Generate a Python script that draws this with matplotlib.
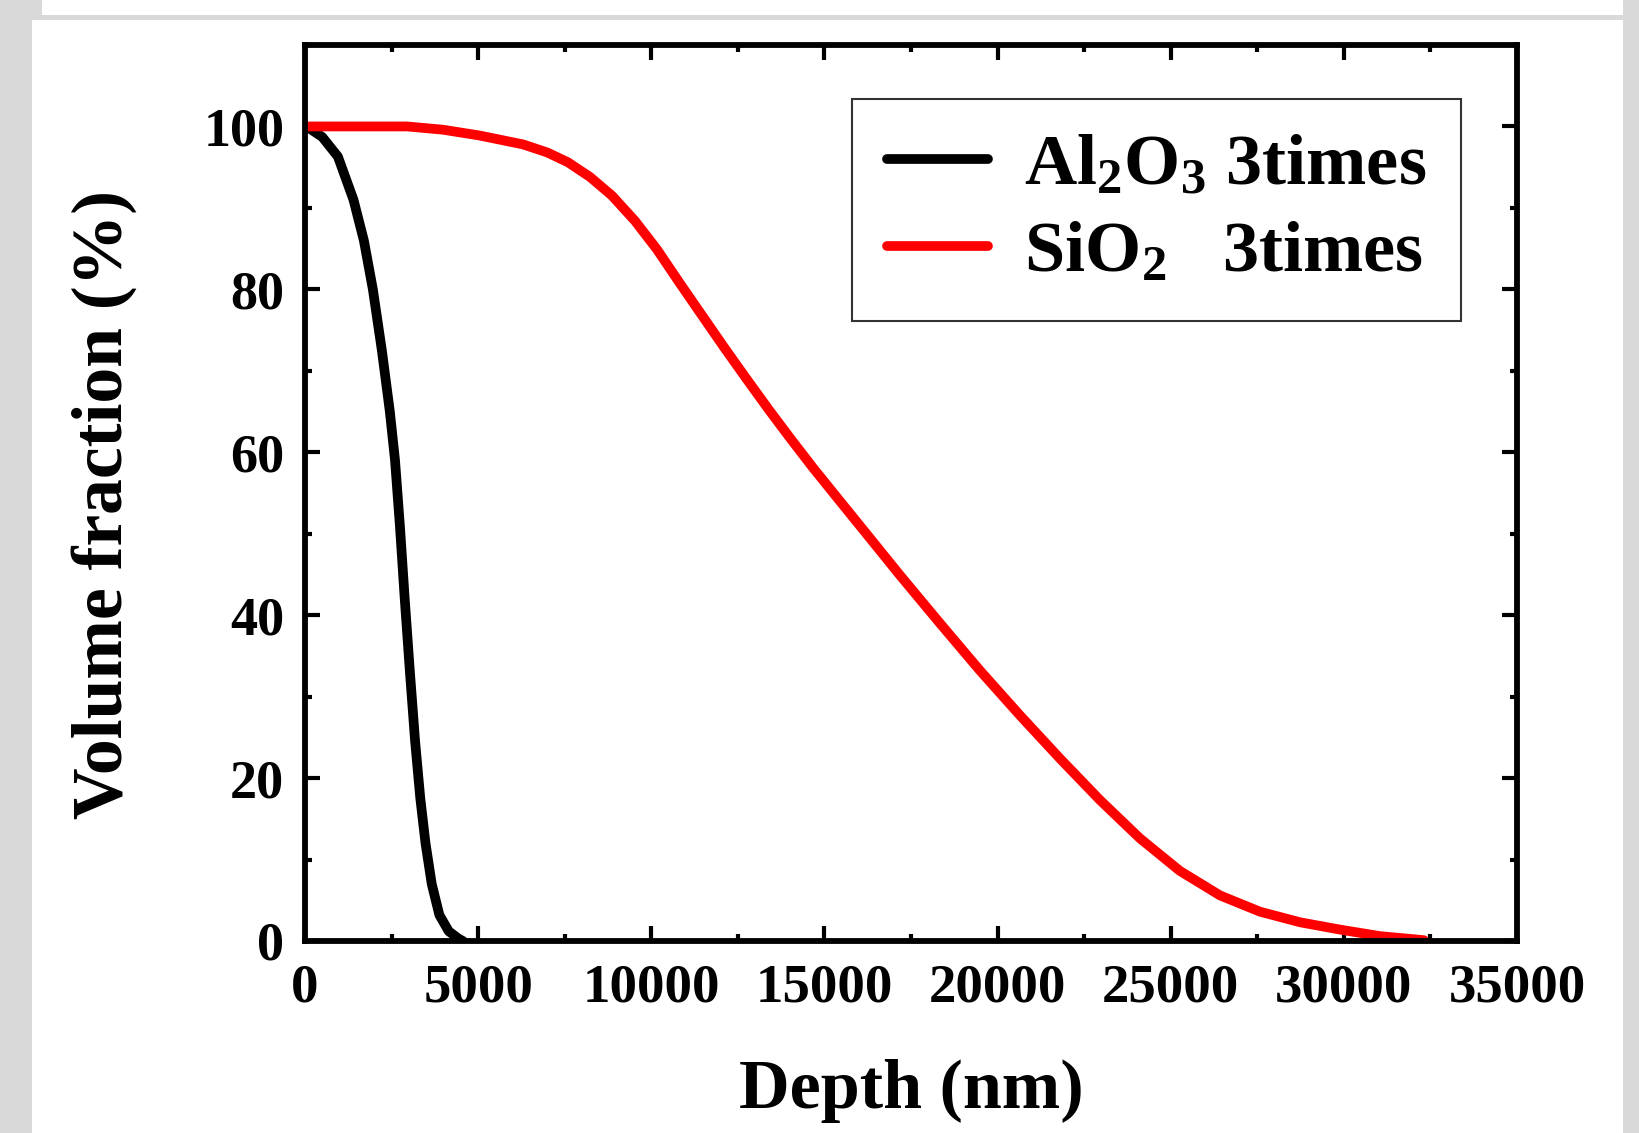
import numpy as np
import matplotlib
matplotlib.use('Agg')
import matplotlib.pyplot as plt
from matplotlib.patches import Rectangle
from matplotlib.ticker import MultipleLocator

plt.rcParams['font.family'] = ['Liberation Serif', 'DejaVu Serif']
plt.rcParams['font.weight'] = 'bold'
plt.rcParams['mathtext.fontset'] = 'custom'
plt.rcParams['mathtext.rm'] = 'Liberation Serif:bold'
plt.rcParams['mathtext.bf'] = 'Liberation Serif:bold'
plt.rcParams['mathtext.it'] = 'Liberation Serif:bold:italic'
plt.rcParams['mathtext.default'] = 'bf'

# Al2O3 3times (depth nm, volume fraction %)
al_depth = [0, 150, 500, 950, 1400, 1700, 1960, 2220, 2450, 2600, 2740,
            2880, 3030, 3180, 3330, 3480, 3660, 3880, 4150, 4430, 4560]
al_frac = [100, 99.7, 98.7, 96.3, 91, 86, 80, 72.5, 65, 59, 51,
           42, 33, 24.5, 17.5, 12, 7, 3.2, 1.2, 0.3, 0]

# SiO2 3times
si_depth = [0, 1000, 2000, 2950, 3985, 5025, 6295, 7000, 7595, 8230, 8866,
            9530, 10165, 10800, 11465, 12100, 12735, 13399, 14035, 14670,
            15334, 16250, 17182, 18337, 19492, 20647, 21802, 22957, 24112,
            25267, 26422, 27577, 28733, 29888, 31043, 32313]
si_frac = [100, 100, 100, 100, 99.6, 98.9, 97.8, 96.8, 95.6, 93.8, 91.5,
           88.4, 84.9, 80.9, 76.8, 72.9, 69.1, 65.2, 61.6, 58.1,
           54.6, 49.8, 44.9, 39.0, 33.2, 27.7, 22.4, 17.3, 12.6,
           8.6, 5.6, 3.6, 2.3, 1.4, 0.6, 0.1]

W, H = 1639, 1133
fig = plt.figure(figsize=(W / 100, H / 100), dpi=100, facecolor='#d9d9d9')

# white panel on the grey page
fig.patches.append(Rectangle((32 / W, 0), (1623 - 32) / W, (H - 20) / H,
                             transform=fig.transFigure, facecolor='white',
                             edgecolor='none', zorder=-10))
fig.patches.append(Rectangle((42 / W, 1 - 15 / H), (1623 - 42) / W, 15 / H,
                             transform=fig.transFigure, facecolor='white',
                             edgecolor='none', zorder=-10))

ax = fig.add_axes([305 / W, 1 - 941 / H, 1212 / W, 896 / H])
ax.set_facecolor('white')

ax.plot(al_depth, al_frac, color='black', lw=7, solid_capstyle='round',
        solid_joinstyle='round', label='Al$_2$O$_3$ 3times')
ax.plot(si_depth, si_frac, color='red', lw=7, solid_capstyle='round',
        solid_joinstyle='round', label='SiO$_2$   3times')

ax.set_xlim(0, 35000)
ax.set_ylim(0, 110)
ax.xaxis.set_major_locator(MultipleLocator(5000))
ax.xaxis.set_minor_locator(MultipleLocator(2500))
ax.yaxis.set_major_locator(MultipleLocator(20))
ax.yaxis.set_minor_locator(MultipleLocator(10))
ax.set_yticks([0, 20, 40, 60, 80, 100])

for s in ax.spines.values():
    s.set_linewidth(4.2)
ax.tick_params(which='both', direction='in', top=True, right=True, width=3)
ax.tick_params(which='major', length=11)
ax.tick_params(which='minor', length=5)
ax.tick_params(axis='x', which='major', labelsize=39.5, pad=16)
ax.tick_params(axis='y', which='major', labelsize=39, pad=15)

ax.set_xlabel('Depth (nm)', fontsize=50.5, fontweight='bold')
ax.set_ylabel('Volume fraction (%)', fontsize=51.5, fontweight='bold')
ax.xaxis.set_label_coords(0.5, -0.132)
ax.yaxis.set_label_coords(-0.139, 0.487)

leg = ax.legend(loc='upper right', bbox_to_anchor=(0.9538, 0.9397),
                borderaxespad=0, fontsize=52, frameon=True, fancybox=False,
                handlelength=1.4, handletextpad=0.5, labelspacing=0.3,
                borderpad=0.48)
leg.get_frame().set_edgecolor('black')
leg.get_frame().set_linewidth(1.5)

fig.savefig('out.png', dpi=100, facecolor=fig.get_facecolor())
